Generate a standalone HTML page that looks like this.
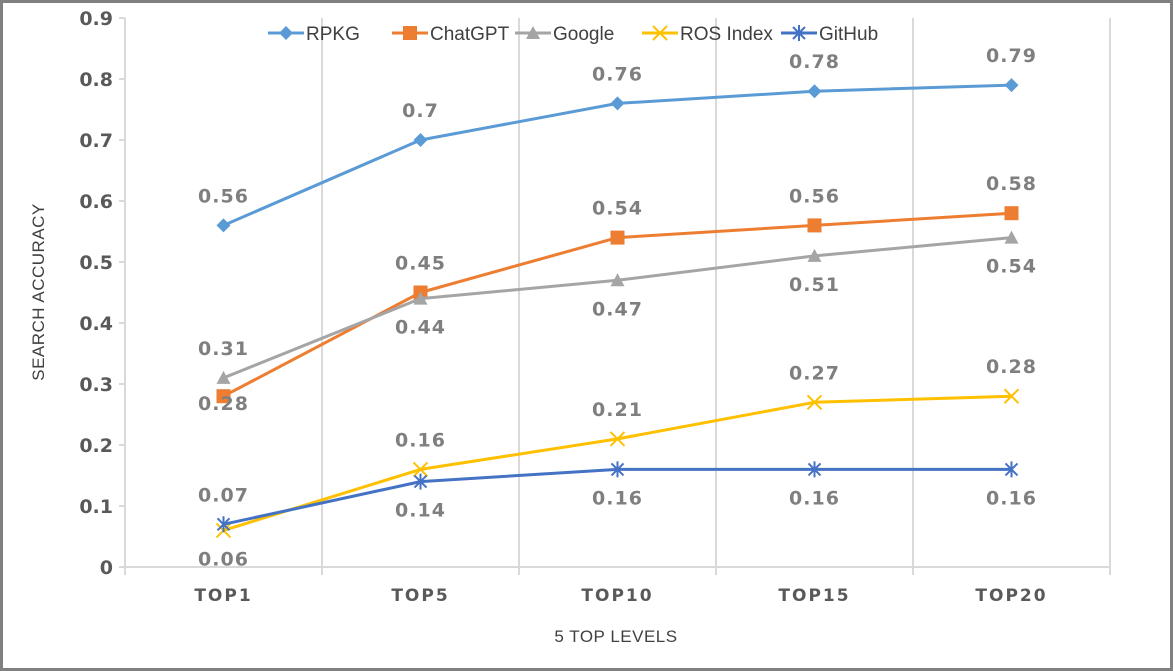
<!DOCTYPE html>
<html><head><meta charset="utf-8"><style>
html,body{margin:0;padding:0;background:#fff}
svg{display:block;font-family:"DejaVu Sans","Liberation Sans",sans-serif}
</style></head><body>
<svg id="chart" width="1173" height="671" viewBox="0 0 1173 671">
<rect x="1.5" y="1.5" width="1170" height="668" fill="#fff" stroke="#808080" stroke-width="3"/>
<g id="grid"></g><g id="axes"></g><g id="series"></g><g id="labels"></g><g id="legend"></g>
<text x="44" y="292" transform="rotate(-90 44 292)" text-anchor="middle" font-size="17" fill="#404040" letter-spacing="0.5" font-family="Liberation Sans, sans-serif">SEARCH ACCURACY</text>
<text x="616" y="642" text-anchor="middle" font-size="17" fill="#404040" letter-spacing="0.5" font-family="Liberation Sans, sans-serif">5 TOP LEVELS</text>
</svg>
<script>
const categories=["TOP1","TOP5","TOP10","TOP15","TOP20"];
const yTicks=[0,0.1,0.2,0.3,0.4,0.5,0.6,0.7,0.8,0.9];
const rpkg=[0.56,0.7,0.76,0.78,0.79];
const chatgpt=[0.28,0.45,0.54,0.56,0.58];
const google=[0.31,0.44,0.47,0.51,0.54];
const rosIndex=[0.06,0.16,0.21,0.27,0.28];
const github=[0.07,0.14,0.16,0.16,0.16];
const seriesNames=["RPKG","ChatGPT","Google","ROS Index","GitHub"];
const NS="http://www.w3.org/2000/svg";
const X0=125,BW=197,Y0=567,PY=610;
const x=i=>X0+BW*(i+0.5);
const y=v=>Y0-v*PY;
function mk(tag,attrs,parent,txt){const e=document.createElementNS(NS,tag);for(const k in attrs)e.setAttribute(k,attrs[k]);if(txt!=null)e.textContent=txt;parent.appendChild(e);return e;}
const grid=document.getElementById('grid'),axes=document.getElementById('axes'),sg=document.getElementById('series'),lg=document.getElementById('labels'),leg=document.getElementById('legend');
for(let i=1;i<=categories.length;i++){const l=mk('line',{x1:X0+BW*i,x2:X0+BW*i,y1:y(0.9),y2:Y0+8,stroke:'#d9d9d9','stroke-width':2},grid);

}
let a=mk('line',{x1:X0,x2:X0,y1:y(0.9),y2:Y0+8,stroke:'#d9d9d9','stroke-width':2},axes);


a=mk('line',{x1:X0,x2:X0+BW*5,y1:Y0,y2:Y0,stroke:'#d9d9d9','stroke-width':2},axes);


yTicks.forEach(t=>{const tk=mk('line',{x1:X0-6,x2:X0,y1:y(t),y2:y(t),stroke:'#d9d9d9','stroke-width':2},axes);


const tl=mk('text',{x:X0-12,y:y(t)+7,'text-anchor':'end','font-size':19,'font-weight':'bold',fill:'#595959'},axes,String(t));

});
categories.forEach((c,i)=>{const tl=mk('text',{x:x(i),y:Y0+34,'text-anchor':'middle','font-size':17,'font-weight':'bold',fill:'#595959','letter-spacing':2},axes,c);

});
function marker(type,cx,cy,color,p){let m;
if(type==='diamond')m=mk('polygon',{points:`${cx},${cy-7} ${cx+7},${cy} ${cx},${cy+7} ${cx-7},${cy}`,fill:color},p);
else if(type==='square')m=mk('rect',{x:cx-7,y:cy-7,width:14,height:14,fill:color},p);
else if(type==='triangle')m=mk('polygon',{points:`${cx},${cy-7} ${cx+7},${cy+6} ${cx-7},${cy+6}`,fill:color},p);
else if(type==='x')m=mk('path',{d:`M${cx-7},${cy-7}L${cx+7},${cy+7}M${cx-7},${cy+7}L${cx+7},${cy-7}`,stroke:color,'stroke-width':2,fill:'none'},p);
else m=mk('path',{d:`M${cx-6},${cy-6}L${cx+6},${cy+6}M${cx-6},${cy+6}L${cx+6},${cy-6}M${cx},${cy-8}L${cx},${cy+8}`,stroke:color,'stroke-width':2,fill:'none'},p);
return m;}
const defs=[[rpkg,'#5b9bd5','diamond',[-1,-1,-1,-1,-1]],[chatgpt,'#ed7d31','square',[2,-1,-1,-1,-1]],[google,'#a5a5a5','triangle',[-1,1,1,1,1]],[rosIndex,'#ffc000','x',[1,-1,-1,-1,-1]],[github,'#4472c4','star',[-1,1,1,1,1]]];
defs.forEach((d,si)=>{const [vals,col,mt,pos]=d;
const pl=mk('polyline',{points:vals.map((v,i)=>x(i)+','+y(v)).join(' '),fill:'none',stroke:col,'stroke-width':3,'stroke-linejoin':'round'},sg);


vals.forEach((v,i)=>{const m=marker(mt,x(i),y(v),col,sg);


const off=pos[i]<0?-23:(pos[i]===2?14:35);
const t=mk('text',{x:x(i),y:y(v)+off,'text-anchor':'middle','font-size':19,'font-weight':'bold',fill:'#7f7f7f','letter-spacing':1},lg,String(v));

});
});
const lx=[268,392,515,642,781];
defs.forEach((d,si)=>{const cx=lx[si]+18,cy=33;
const g=mk('g',{},leg);


mk('line',{x1:lx[si],x2:lx[si]+36,y1:cy,y2:cy,stroke:d[1],'stroke-width':3},g);
marker(d[2],cx,cy,d[1],g);
mk('text',{x:lx[si]+38,y:cy+7,'font-size':19,fill:'#404040','font-family':'Liberation Sans, sans-serif'},g,seriesNames[si]);});
</script>
</body></html>
